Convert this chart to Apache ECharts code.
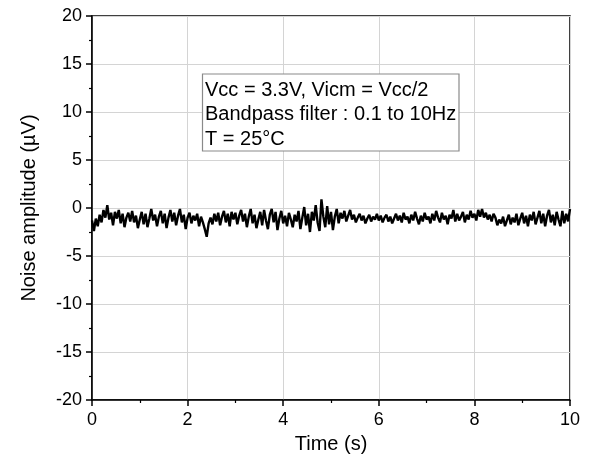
<!DOCTYPE html>
<html>
<head>
<meta charset="utf-8">
<script src="https://cdn.jsdelivr.net/npm/echarts@6/dist/echarts.min.js"></script>
<style>
  html, body { margin: 0; padding: 0; background: #fff; }
  #chart { width: 589px; height: 464px; }
</style>
</head>
<body>
<div id="chart"></div>
<script>
// Sample spacing of the noise record, seconds
const sampleInterval = 0.04;

// Measured noise amplitude, µV, one value per sample (0 s to 10 s)
const noiseUV = [
  -1.3, -2.4, -1.1, -1.9, -0.7, -1.5, -0.2, -1.0, 0.3, -1.2, -0.5, -1.8, -0.4, -1.1, -0.2, -1.6, -0.6, -2.0, -1.0, -0.5, -1.4, -0.3, -1.5, -0.8, -2.1,
  -1.2, -0.4, -1.7, -0.6, -2.0, -1.1, -0.1, -1.3, -0.7, -1.9, -0.9, -0.3, -1.6, -0.6, -2.1, -1.0, -0.2, -1.4, -0.5, -1.8, -0.8, -0.1, -1.5, -0.7, -2.2,
  -1.0, -0.5, -1.6, -0.8, -1.3, -0.6, -1.9, -0.9, -1.5, -2.2, -3.0, -1.6, -1.0, -1.7, -0.6, -1.4, -0.5, -1.8, -0.9, -0.3, -1.5, -0.6, -1.9, -0.4, -1.2,
  -0.5, -1.7, -0.8, -0.2, -1.4, -0.6, -2.0, -0.9, -0.1, -1.6, -0.7, -2.1, -1.2, -0.4, -1.8, -0.2, -1.3, -2.2, -0.7, -0.1, -1.5, -0.4, -2.3, -1.1, -0.3,
  -1.6, -0.8, -1.9, -0.5, -1.2, -2.0, -0.7, -1.4, -0.3, -2.2, -1.0, 0.1, -1.8, -0.6, -2.5, -0.4, -1.3, 0.3, -1.5, -2.4, 0.9, -0.9, -2.0, 0.2, -1.7,
  -0.4, -2.3, -0.9, -0.1, -1.6, -0.5, -1.1, -0.3, -1.4, -0.8, -0.2, -1.2, -0.7, -1.5, -1.0, -0.6, -1.3, -0.8, -1.6, -1.1, -0.7, -1.4, -0.9, -1.2, -0.6,
  -1.3, -0.8, -1.5, -1.0, -0.7, -1.4, -0.9, -1.6, -1.1, -0.6, -1.3, -0.8, -1.5, -0.5, -1.2, -0.9, -1.6, -0.7, -1.3, -0.4, -1.1, -1.7, -0.8, -1.4, -0.5,
  -1.2, -0.9, -1.6, -0.6, -1.3, -0.3, -1.0, -1.5, -0.5, -1.2, -0.8, -1.7, -0.7, -1.1, -0.2, -1.4, -0.6, -1.3, -0.9, -0.4, -1.5, -0.7, -1.2, -0.3, -1.0,
  -0.6, -1.3, -0.2, -0.9, -0.1, -1.0, -0.5, -1.2, -0.7, -1.4, -0.6, -1.0, -1.8, -1.2, -1.6, -0.9, -1.9, -1.3, -0.7, -1.7, -1.0, -1.5, -0.6, -1.8, -1.1,
  -0.5, -1.6, -0.8, -1.9, -0.7, -1.3, -0.4, -1.7, -1.0, -0.3, -1.6, -0.6, -1.9, -0.8, -0.2, -1.5, -0.7, -1.8, -0.4, -1.2, -1.9, -0.3, -1.6, -0.6, -1.4,
  -0.1
];

// Axis ranges and spacing
const xRange = [0, 10];
const xStep = 2;
const yRange = [-20, 20];
const yStep = 5;

// Test conditions shown in the annotation box
const conditionLines = [
  'Vcc = 3.3V, Vicm = Vcc/2',
  'Bandpass filter : 0.1 to 10Hz',
  'T = 25°C'
];

const xTitle = 'Time (s)';
const yTitle = 'Noise amplitude (µV)';

const FONT = 'Arial, "Liberation Sans", sans-serif';
const seriesData = noiseUV.map((v, i) => [+(i * sampleInterval).toFixed(2), v]);

const chart = echarts.init(document.getElementById('chart'), null, { renderer: 'canvas' });

const axisCommon = {
  axisLine: { show: true, onZero: false, lineStyle: { color: '#000', width: 1.5 } },
  axisTick: { show: true, inside: false, length: 6, lineStyle: { color: '#000', width: 1.5 } },
  minorTick: { show: true, length: 3, lineStyle: { color: '#000', width: 1.2 } },
  splitLine: { show: true, lineStyle: { color: '#d4d4d4', width: 1 } },
  axisLabel: { color: '#000', fontFamily: FONT, fontSize: 18 },
  nameTextStyle: { color: '#000', fontFamily: FONT, fontSize: 20 }
};

chart.setOption({
  animation: false,
  backgroundColor: '#fff',
  grid: {
    left: 92, right: 19, top: 16, bottom: 64,
    show: true, borderColor: '#000', borderWidth: 1.5, backgroundColor: 'transparent'
  },
  xAxis: Object.assign({}, axisCommon, {
    type: 'value',
    min: xRange[0], max: xRange[1], interval: xStep,
    minorTick: Object.assign({}, axisCommon.minorTick, { splitNumber: 2 }),
    name: xTitle, nameLocation: 'middle', nameGap: 34,
    axisLabel: Object.assign({}, axisCommon.axisLabel, { margin: 11 })
  }),
  yAxis: Object.assign({}, axisCommon, {
    type: 'value',
    min: yRange[0], max: yRange[1], interval: yStep,
    minorTick: Object.assign({}, axisCommon.minorTick, { splitNumber: 2 }),
    name: yTitle, nameLocation: 'middle', nameGap: 53,
    axisLabel: Object.assign({}, axisCommon.axisLabel, { margin: 10 })
  }),
  series: [{
    type: 'line',
    data: seriesData,
    showSymbol: false,
    lineStyle: { color: '#000', width: 2.4 },
    z: 3
  }],
  graphic: [
    {
      type: 'rect',
      z: 100,
      shape: { x: 202.5, y: 74, width: 256.5, height: 77 },
      style: { fill: '#fff', stroke: '#8a8a8a', lineWidth: 1.2 }
    },
    ...conditionLines.map((line, i) => ({
      type: 'text',
      z: 101,
      x: 205, y: 90 + i * 24.5,
      style: { text: line, fill: '#000', font: '20px ' + FONT, textVerticalAlign: 'middle', verticalAlign: 'middle' }
    }))
  ]
});
</script>
</body>
</html>
